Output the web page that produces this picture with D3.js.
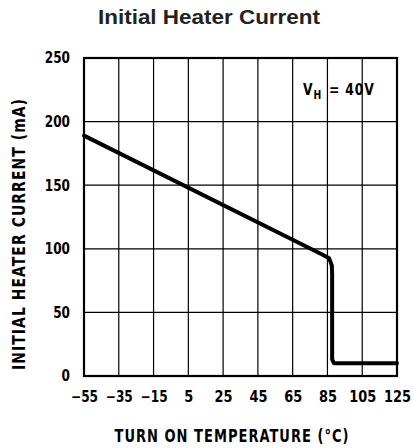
<!DOCTYPE html>
<html><head><meta charset="utf-8">
<script src="https://cdn.jsdelivr.net/npm/d3@7"></script>
<style>body{margin:0;background:#fff}svg{display:block}</style>
</head><body>
<script>
const title = "Initial Heater Current";
const xTicks = [-55, -35, -15, 5, 25, 45, 65, 85, 105, 125];
const yTicks = [0, 50, 100, 150, 200, 250];
const temps    = [-55, 82, 86, 87.5, 87.7, 87.7, 88.8, 125];
const currents = [189, 95.5, 92.5, 87, 80, 13, 10, 10];
const xLabel = "TURN ON TEMPERATURE (°C)";
const yLabel = "INITIAL HEATER CURRENT (mA)";

const W = 414, H = 448;
const m = {l: 84, r: 397, t: 58, b: 376};
const svg = d3.select("body").append("svg").attr("width", W).attr("height", H);
const x = d3.scaleLinear().domain([-55, 125]).range([m.l, m.r]);
const y = d3.scaleLinear().domain([0, 250]).range([m.b, m.t]);
const cf = "'DejaVu Sans Condensed','DejaVu Sans',sans-serif";

svg.append("text").attr("x", 209).attr("y", 24).attr("text-anchor", "middle")
  .attr("font-family", "'Liberation Sans',Arial,sans-serif").attr("font-weight", "bold")
  .attr("font-size", 21).attr("fill", "#222").attr("textLength", 222)
  .attr("lengthAdjust", "spacingAndGlyphs").text(title);

// grid
const g = svg.append("g");
g.selectAll(".vx").data(xTicks).join("line")
  .attr("x1", d => x(d)).attr("x2", d => x(d)).attr("y1", m.t).attr("y2", m.b)
  .attr("stroke", "#000").attr("stroke-width", 1.2);
g.selectAll(".hy").data(yTicks).join("line")
  .attr("y1", d => y(d)).attr("y2", d => y(d)).attr("x1", m.l).attr("x2", m.r)
  .attr("stroke", "#000").attr("stroke-width", 1.2);
g.append("rect").attr("x", m.l).attr("y", m.t).attr("width", m.r - m.l).attr("height", m.b - m.t)
  .attr("fill", "none").attr("stroke", "#000").attr("stroke-width", 2.2);

// axes labels
const xa = d3.axisBottom(x).tickValues(xTicks).tickSize(0).tickPadding(15)
  .tickFormat(d => d < 0 ? "\u2212" + Math.abs(d) : d);
svg.append("g").attr("transform", `translate(0,${m.b})`).call(xa)
  .call(s => s.select(".domain").remove())
  .selectAll("text").attr("font-family", cf).attr("font-weight", "bold").attr("font-size", 15)
  .attr("fill", "#000").attr("lengthAdjust", "spacingAndGlyphs")
  .attr("textLength", function(){ return this.textContent.length * 9; });
const ya = d3.axisLeft(y).tickValues(yTicks).tickSize(0).tickPadding(14);
svg.append("g").attr("transform", `translate(${m.l},0)`).call(ya)
  .call(s => s.select(".domain").remove())
  .selectAll("text").attr("font-family", cf).attr("font-weight", "bold").attr("font-size", 15)
  .attr("fill", "#000").attr("lengthAdjust", "spacingAndGlyphs")
  .attr("textLength", function(){ return this.textContent.length * 8.4; });

svg.append("text").attr("x", 232).attr("y", 442).attr("text-anchor", "middle")
  .attr("font-family", cf).attr("font-weight", "bold").attr("font-size", 17)
  .attr("letter-spacing", 1.2)
  .attr("textLength", 235).attr("lengthAdjust", "spacingAndGlyphs").text(xLabel);
svg.append("text").attr("transform", "translate(25,234) rotate(-90)").attr("text-anchor", "middle")
  .attr("font-family", cf).attr("font-weight", "bold").attr("font-size", 17)
  .attr("letter-spacing", 1.2)
  .attr("textLength", 272).attr("lengthAdjust", "spacingAndGlyphs").text(yLabel);

// annotation
const ann = svg.append("g").attr("transform", "translate(303,95) scale(0.86,1)")
  .append("text").attr("font-family", cf).attr("font-weight", "bold").attr("font-size", 16);
ann.append("tspan").text("V");
ann.append("tspan").attr("font-size", 12).attr("dy", 4).attr("dx", 1).text("H");
ann.append("tspan").attr("dy", -4).attr("dx", 3).attr("letter-spacing", 1).text(" = 40V");

// curve
const pts = temps.map((t, i) => [t, currents[i]]);
svg.append("path").datum(pts)
  .attr("d", d3.line().x(d => x(d[0])).y(d => y(d[1])))
  .attr("fill", "none").attr("stroke", "#000").attr("stroke-width", 4)
  .attr("stroke-linejoin", "round").attr("stroke-linecap", "round");
</script>
</body></html>
